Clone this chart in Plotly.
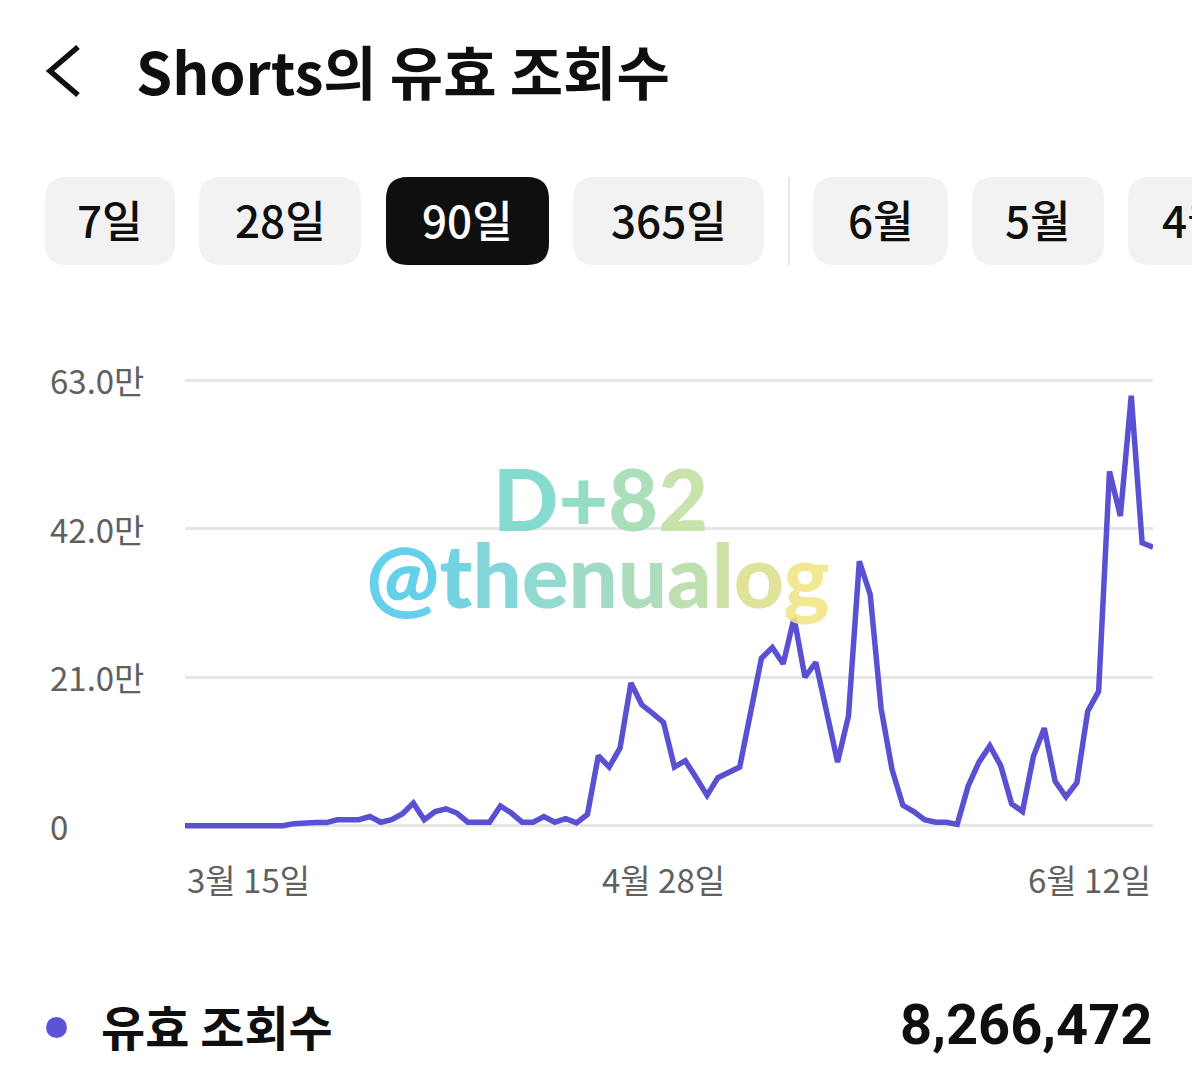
import pandas as pd
import plotly.graph_objects as go

# 90 daily points, 3/15 .. 6/12, values in 만 (10,000 views)
dates = pd.date_range("2024-03-15", periods=90, freq="D")
views_man = [
    0, 0, 0, 0, 0, 0, 0, 0, 0, 0,
    0.3, 0.45, 0.45, 0.45, 0.85, 0.85, 0.85, 1.3, 0.5, 0.85,
    1.7, 3.2, 0.85, 2.0, 2.4, 1.8, 0.5, 0.5, 0.5, 2.8,
    1.8, 0.5, 0.5, 1.3, 0.5, 1.0, 0.4, 1.6, 9.9, 8.3,
    11.0, 20.2, 17.1, 15.9, 14.6, 8.3, 9.2, 6.8, 4.3, 6.8,
    7.5, 8.3, 16.0, 23.7, 25.2, 22.9, 29.4, 21.0, 23.1, 16.4,
    9.0, 15.5, 37.4, 32.7, 16.6, 8.0, 2.9, 2.0, 0.85, 0.5,
    0.5, 0.2, 5.6, 9.0, 11.3, 8.5, 3.1, 2.0, 9.8, 13.8,
    6.3, 4.1, 6.1, 16.2, 19.0, 50.1, 43.8, 60.8, 40.0, 39.4,
]
views = [v * 10000 for v in views_man]

y_ticks = [0, 210000, 420000, 630000]
y_tick_text = ["0", "21.0만", "42.0만", "63.0만"]
x_tick_dates = ["2024-03-15", "2024-04-28", "2024-06-12"]
x_tick_text = ["3월 15일", "4월 28일", "6월 12일"]

periods = ["7일", "28일", "90일", "365일"]
months = ["6월", "5월", "4월"]
total_views = "8,266,472"

# page has an 8px body margin, so the figure is 8px smaller than the window
W, H = 1192, 1080
L, R, T, B = 177, 47, 368, 258
PW, PH = W - L - R, H - T - B

KR = "Noto Sans CJK KR"
LINE = "#5a50d2"
GRAY = "#606060"


# helpers take window pixel coords (as measured on the screenshot)
def px(x):
    return (x - 8 - L) / PW


def py(y):
    return (H - B - (y - 8)) / PH


def rrect(x0, y0, x1, y1, r):
    pts = [
        ("M", x0 + r, y0), ("L", x1 - r, y0), ("Q", x1, y0, x1, y0 + r),
        ("L", x1, y1 - r), ("Q", x1, y1, x1 - r, y1), ("L", x0 + r, y1),
        ("Q", x0, y1, x0, y1 - r), ("L", x0, y0 + r), ("Q", x0, y0, x0 + r, y0),
    ]
    out = []
    for p in pts:
        cmd, coords = p[0], p[1:]
        xy = []
        for i in range(0, len(coords), 2):
            xy.append(f"{px(coords[i]):.5f},{py(coords[i + 1]):.5f}")
        out.append(cmd + " " + " ".join(xy))
    return " ".join(out) + " Z"


fig = go.Figure()
fig.add_trace(go.Scatter(
    x=dates, y=views, mode="lines",
    line=dict(color=LINE, width=5.5),
    hoverinfo="skip",
))

shapes = []
annotations = []

# back chevron
shapes.append(dict(
    type="path", xref="paper", yref="paper",
    path=f"M {px(78):.5f},{py(47):.5f} L {px(50):.5f},{py(71):.5f} L {px(78):.5f},{py(95):.5f}",
    line=dict(color="#0f0f0f", width=5.5),
))
annotations.append(dict(
    text="<b>Shorts의 유효 조회수</b>", x=px(134), y=py(70),
    xanchor="left", yanchor="middle",
    font=dict(family=KR, size=58, color="#0f0f0f"),
))

# period pills
pill_boxes = [(45, 175), (199, 361), (386, 549), (573, 764)]
for (x0, x1), label in zip(pill_boxes, periods):
    selected = label == "90일"
    shapes.append(dict(
        type="path", xref="paper", yref="paper", path=rrect(x0, 177, x1, 265, 22),
        fillcolor="#0f0f0f" if selected else "#f2f2f2", line=dict(width=0), layer="below",
    ))
    annotations.append(dict(
        text=label, x=px((x0 + x1) / 2), y=py(219), xanchor="center", yanchor="middle",
        font=dict(family=KR, size=44, weight=500, color="#ffffff" if selected else "#0f0f0f"),
    ))
shapes.append(dict(
    type="line", xref="paper", yref="paper",
    x0=px(789), x1=px(789), y0=py(177), y1=py(265),
    line=dict(color="#e8e8e8", width=2),
))
month_boxes = [(813, 948), (972, 1104), (1128, 1262)]
for (x0, x1), label in zip(month_boxes, months):
    shapes.append(dict(
        type="path", xref="paper", yref="paper", path=rrect(x0, 177, x1, 265, 22),
        fillcolor="#f2f2f2", line=dict(width=0), layer="below",
    ))
    annotations.append(dict(
        text=label, x=px((x0 + x1) / 2), y=py(219), xanchor="center", yanchor="middle",
        font=dict(family=KR, size=44, weight=500, color="#0f0f0f"),
    ))

# y tick labels, left aligned
for v, t in zip(y_ticks, y_tick_text):
    annotations.append(dict(
        text=t, x=px(48), xref="paper", y=v, yref="y",
        xanchor="left", yanchor="middle", showarrow=False,
        font=dict(family=KR, size=33, color=GRAY),
    ))

# x tick labels: first left, middle centered, last right
for d, t, anchor in zip(x_tick_dates, x_tick_text, ["left", "center", "right"]):
    annotations.append(dict(
        text=t, x=d, xref="x", y=py(879), yref="paper",
        xanchor=anchor, yanchor="middle", showarrow=False,
        font=dict(family=KR, size=33, color=GRAY),
    ))

# watermark
wm1 = ["#7ad8cc", "#88d9c2", "#a2dbb4", "#c4e0a4"]
wm2 = ["#55cbe8", "#66cfe0", "#76d3d6", "#85d6cc", "#95d8c2",
       "#a6dab6", "#b8dca8", "#cadf9c", "#dde291", "#f1e588"]
s1 = "".join(f'<span style="color:{c}">{ch}</span>' for ch, c in zip("D+82", wm1))
s2 = "".join(f'<span style="color:{c}">{ch}</span>' for ch, c in zip("@thenualog", wm2))
annotations.append(dict(
    text=s1, x=px(600), y=py(497), xanchor="center", yanchor="middle",
    font=dict(family="Lato", size=86, weight=900), opacity=0.9,
))
annotations.append(dict(
    text=s2, x=px(598), y=py(574), xanchor="center", yanchor="middle",
    font=dict(family="Lato", size=87, weight=900), opacity=0.9,
))

# legend row at the bottom
shapes.append(dict(
    type="circle", xref="paper", yref="paper",
    x0=px(46), x1=px(67), y0=py(1017), y1=py(1038),
    fillcolor="#5b55d6", line=dict(width=0),
))
annotations.append(dict(
    text="<b>유효 조회수</b>", x=px(99), y=py(1025), xanchor="left", yanchor="middle",
    font=dict(family=KR, size=48, color="#0f0f0f"),
))
annotations.append(dict(
    text=f"<b>{total_views}</b>", x=px(1154), y=py(1025), xanchor="right", yanchor="middle",
    font=dict(family="Roboto", size=56, color="#0f0f0f"),
))

for a in annotations:
    a.setdefault("xref", "paper")
    a.setdefault("yref", "paper")
    a.setdefault("showarrow", False)

fig.update_layout(
    width=W, height=H,
    margin=dict(l=L, r=R, t=T, b=B),
    paper_bgcolor="white", plot_bgcolor="white",
    showlegend=False, hovermode=False,
    shapes=shapes, annotations=annotations,
    xaxis=dict(
        range=[dates[0], dates[-1]], showgrid=False, zeroline=False,
        showticklabels=False, showline=False, ticks="",
    ),
    yaxis=dict(
        range=[-6000, 636000], tickvals=y_ticks, showticklabels=False,
        showgrid=True, gridcolor="#e6e6e6", gridwidth=3, zeroline=False,
        showline=False, ticks="",
    ),
)

fig.write_html("out.html")
